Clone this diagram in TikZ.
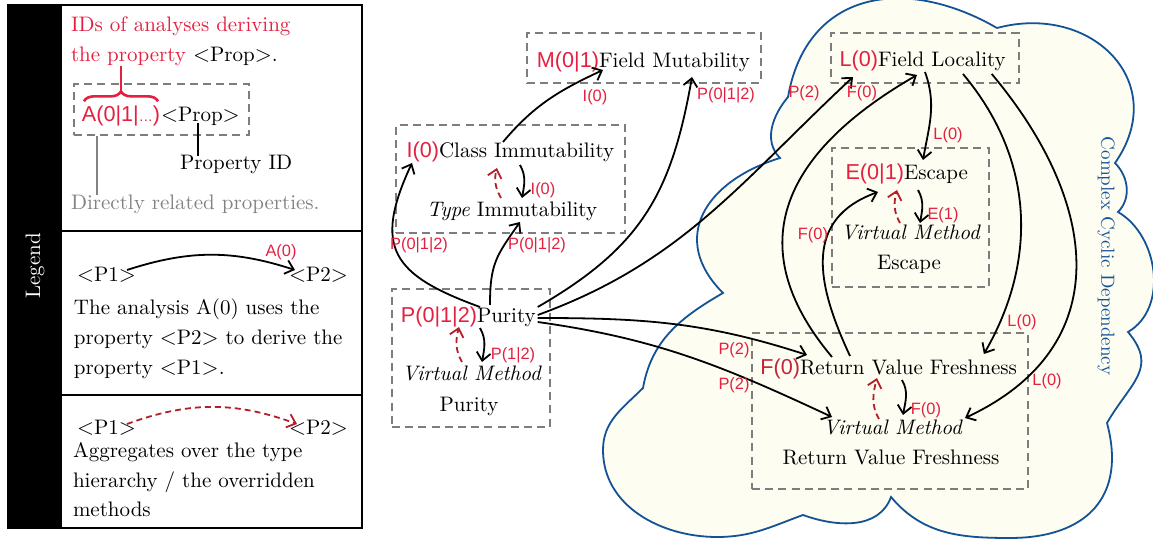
\documentclass[tikz,border=0pt]{standalone}
\usepackage{fontspec}
\newfontfamily\labfont{Liberation Sans}
\usetikzlibrary{arrows.meta,calc,decorations.pathreplacing}
\definecolor{labred}{RGB}{228,32,64}
\definecolor{aggred}{RGB}{180,30,40}
\definecolor{fred}{RGB}{195,35,60}
\definecolor{boxgray}{RGB}{125,125,125}
\definecolor{cloudblue}{RGB}{20,82,150}
\definecolor{cloudfill}{RGB}{253,253,242}
\definecolor{relgray}{RGB}{130,130,130}
\tikzset{
  txt/.style={inner sep=0pt, outer sep=0pt},
  plab/.style={inner sep=0pt, outer sep=0pt, text=labred, font=\labfont\fontsize{10.8}{13}\selectfont},
  elab/.style={inner sep=0pt, outer sep=0pt, text=labred, font=\labfont\fontsize{8.2}{10}\selectfont},
  dbox/.style={draw=boxgray, line width=1pt, dash pattern=on 4pt off 2.6pt, inner sep=0pt, outer sep=0pt, anchor=north west},
  boxsz/.style 2 args={minimum width=#1*0.5pt, minimum height=#2*0.5pt},
  dep/.style={draw=black, line width=0.9pt, -{Straight Barb[length=4pt,width=7pt]}},
  agg/.style={draw=aggred, line width=0.9pt, dash pattern=on 3pt off 2pt, -{Straight Barb[length=4pt,width=7pt]}},
  legbox/.style={draw=black, line width=1pt, inner sep=0pt, outer sep=0pt, anchor=north west},
}
\begin{document}
\begin{tikzpicture}[x=0.5pt, y=0.5pt, font=\fontsize{10.5}{12.6}\selectfont]
\useasboundingbox (0,0) rectangle (1153,-539);

% ---------- cloud ----------
\path[draw=cloudblue, fill=cloudfill, line width=0.9pt]
 (788,-97) to[out=80,in=150,looseness=1.25] (997,-28)
 to[out=15,in=55,looseness=1.4] (1115,-163)
 to[out=-45,in=45] (1118,-212)
 to[out=-30,in=30] (1128,-332)
 to[out=-50,in=60,looseness=1.3] (1107,-423)
 to[out=-75,in=0,looseness=1.3] (1010,-538)
 to[out=180,in=-50] (891,-497)
 to[out=-110,in=-20] (803,-515)
 to[out=-160,in=0] (717,-537)
 to[out=180,in=-90] (603,-450)
 to[out=90,in=-135] (643,-388)
 to[out=80,in=-150] (723,-293)
 to[out=135,in=197,looseness=1.35] (780,-158)
 to[out=135,in=-130] (788,-97) -- cycle;
\node[rotate=-90, text=cloudblue, font=\fontsize{9.5}{11}\selectfont] (ccd) at (1106,-256) {Complex Cyclic Dependency};

% ---------- legend ----------
\node[legbox, fill=black, boxsz={52}{523}] (legbar) at (8,-5) {};
\node[rotate=90, text=white] (legtitle) at (35,-266) {Legend};
\node[legbox, boxsz={301}{226}] (leg1) at (61,-5) {};
\node[legbox, boxsz={301}{164}] (leg2) at (61,-231) {};
\node[legbox, boxsz={301}{133}] (leg3) at (61,-395) {};

\node[txt, anchor=base west, text=labred] (LIDs1) at (71,-32) {IDs of analyses deriving};
\node[txt, anchor=base west] (LIDs2) at (71,-62) {\textcolor{labred}{the property} $<$Prop$>$.};
\node[dbox, boxsz={175}{51}] (LBox) at (74,-84) {};
\node[plab, anchor=base east] (LAlab) at (160,-122) {A(0|1|{\fontsize{7}{8}\selectfont …})};
\node[txt, anchor=base west] (LProp) at (161,-122) {$<$Prop$>$};
\draw[decorate, decoration={brace,amplitude=5pt}, draw=labred, line width=1.3pt]
  ($(LAlab.north west)+(2,5)$) -- ($(LAlab.north east)+(-2,5)$);
\coordinate (btip) at ($(LAlab.north west)!0.5!(LAlab.north east)+(0,15)$);
\draw[labred, line width=1.3pt] (btip) -- (btip |- LIDs2.south);
\node[txt, anchor=base west] (LPID) at (180,-170) {Property ID};
\coordinate (pidtop) at ($(LProp.base west)+(37,-1)$);
\draw[line width=1pt] (pidtop) -- (pidtop |- LPID.north);
\node[txt, anchor=base west, text=relgray] (LDR) at (71,-210) {Directly related properties.};
\coordinate (drtop) at ($(LBox.south west)+(23,-1)$);
\draw[relgray, line width=1pt] (drtop) -- (drtop |- LDR.north);

\node[txt, anchor=base west] (LP1a) at (77,-282) {$<$P1$>$};
\node[txt, anchor=base west] (LP2a) at (289,-282) {$<$P2$>$};
\draw[dep] ($(LP1a.base west)+(50,12)$) to[bend left=18] ($(LP2a.base west)+(6,12)$);
\node[elab] (LA0) at (281,-252) {A(0)};
\node[txt, anchor=base west] (Lt1) at (74,-315) {The analysis A(0) uses the};
\node[txt, anchor=base west] (Lt2) at (74,-345) {property $<$P2$>$ to derive the};
\node[txt, anchor=base west] (Lt3) at (74,-375) {property $<$P1$>$.};

\node[txt, anchor=base west] (LP1b) at (77,-435) {$<$P1$>$};
\node[txt, anchor=base west] (LP2b) at (289,-435) {$<$P2$>$};
\draw[agg] ($(LP1b.base west)+(50,11)$) to[bend left=20] ($(LP2b.base west)+(8,11)$);
\node[txt, anchor=base west] (Lt4) at (73,-458) {Aggregates over the type};
\node[txt, anchor=base west] (Lt5) at (73,-488) {hierarchy / the overridden};
\node[txt, anchor=base west] (Lt6) at (73,-517) {methods};

% ---------- boxes ----------
\node[dbox, boxsz={234}{50}] (Mbox) at (527,-33) {};
\node[dbox, boxsz={229}{108}] (Ibox) at (396,-125) {};
\node[dbox, boxsz={158}{138}] (Pbox) at (392,-289) {};
\node[dbox, boxsz={188}{50}] (Lbox) at (831,-33) {};
\node[dbox, boxsz={157}{139}] (Ebox) at (832,-148) {};
\node[dbox, boxsz={276}{156}] (Fbox) at (752,-333) {};

% ---------- texts ----------
\node[plab, anchor=base east] (Mlab) at (599,-68) {M(0|1)};
\node[txt, anchor=base west] (Mtxt) at (599,-68) {Field Mutability};
\node[plab, anchor=base east] (Ilab) at (439,-158) {I(0)};
\node[txt, anchor=base west] (Itxt) at (439,-158) {Class Immutability};
\node[txt, anchor=base] (Ttxt) at (512,-217) {\textit{Type} Immutability};
\node[plab, anchor=base east] (Plab) at (477,-323) {P(0|1|2)};
\node[txt, anchor=base west] (Ptxt) at (477,-323) {Purity};
\node[txt, anchor=base] (PVM) at (472,-381) {\textit{Virtual Method}};
\node[txt, anchor=base] (PVP) at (469,-412) {Purity};
\node[plab, anchor=base east] (Llab) at (878,-67) {L(0)};
\node[txt, anchor=base west] (Ltxt) at (878,-67) {Field Locality};
\node[plab, anchor=base east] (Elab) at (904,-180) {E(0|1)};
\node[txt, anchor=base west] (Etxt) at (904,-180) {Escape};
\node[txt, anchor=base] (EVM) at (911,-240) {\textit{Virtual Method}};
\node[txt, anchor=base] (EVE) at (909,-270) {Escape};
\node[plab, anchor=base east, text=fred] (Flab) at (800,-375) {F(0)};
\node[txt, anchor=base west] (Ftxt) at (800,-375) {Return Value Freshness};
\node[txt, anchor=base] (FVM) at (893,-435) {\textit{Virtual Method}};
\node[txt, anchor=base] (FVR) at (891,-465) {Return Value Freshness};

% ---------- edges ----------
\draw[dep] ($(Itxt.base west)+(64,16)$) to[out=50,in=-155] ($(Mtxt.base west)+(4,-2)$);
\node[elab] (eIM) at (595,-97) {I(0)};
\draw[dep] ($(Ptxt.base west)+(3,16)$) to[out=160,in=-115,looseness=1.5] ($(Ilab.base east)+(-27,-5)$);
\node[elab] (ePI) at (419,-245) {P(0|1|2)};
\draw[dep] ($(Ptxt.base west)+(13,18)$) to[out=90,in=-125,looseness=1.2] ($(Ttxt.base)+(8,-5)$);
\node[elab] (ePT) at (537,-245) {P(0|1|2)};
\draw[dep] ($(Ptxt.base east)+(2,16)$) to[out=30,in=-100,looseness=1.1] ($(Mtxt.base west)+(93,-9)$);
\node[elab] (ePM) at (726,-95) {P(0|1|2)};
\draw[dep] ($(Ptxt.base east)+(2,8)$) to[out=20,in=-137] ($(Llab.base east)+(-25,-10)$);
\node[elab] (ePL) at (804,-93) {P(2)};
\draw[dep] ($(Ptxt.base east)+(2,5)$) to[out=0,in=162] ($(Ftxt.base west)+(7,20)$);
\node[elab] (ePF) at (734,-350) {P(2)};
\draw[dep] ($(Ptxt.base east)+(2,1)$) to[out=-8,in=155] ($(FVM.base)+(-61,18)$);
\node[elab] (ePV) at (734,-385) {P(2)};

\draw[dep] ($(Ftxt.base west)+(32,18)$) to[out=130,in=-150,looseness=1.3] ($(Ltxt.base west)+(39,-8)$);
\node[elab] (eFL) at (862,-93) {F(0)};
\draw[dep] ($(Ftxt.base west)+(50,19)$) to[out=115,in=-160,looseness=1.23] ($(Elab.base east)+(-26,-12)$);
\node[elab] (eFE) at (813,-235) {F(0)};
\draw[dep] ($(Ltxt.base west)+(47,-5)$) to[out=-70,in=80] ($(Etxt.base west)+(19,20)$);
\node[elab] (eLE) at (948,-135) {L(0)};
\draw[dep] ($(Ltxt.base west)+(85,-7)$) to[out=-50,in=60] ($(Ftxt.base east)+(-33,21)$);
\node[elab] (eLF) at (1022,-322) {L(0)};
\draw[dep] ($(Ltxt.base east)+(-14,-7)$) to[out=-50,in=25,looseness=1.25] ($(FVM.base)+(72,17)$);
\node[elab] (eLV) at (1047,-381) {L(0)};

% ---------- self loops ----------
\draw[dep] ($(Itxt.base west)+(81,-7)$) to[out=-60,in=80] ($(Ttxt.base)+(10,19)$);
\node[elab] (eII) at (543,-190) {I(0)};
\draw[agg] ($(Ttxt.base)+(-11,19)$) to[out=120,in=-105] ($(Itxt.base west)+(58,-10)$);

\draw[dep] ($(Ptxt.base west)+(3,-5)$) to[out=-60,in=80] ($(PVM.base)+(10,19)$);
\node[elab] (ePP) at (513,-355) {P(1|2)};
\draw[agg] ($(PVM.base)+(-10,19)$) to[out=120,in=-105] ($(Plab.base east)+(-18,-4)$);

\draw[dep] ($(Etxt.base west)+(14,-10)$) to[out=-60,in=80] ($(EVM.base)+(9,17)$);
\node[elab] (eEE) at (943,-215) {E(1)};
\draw[agg] ($(EVM.base)+(-11,17)$) to[out=120,in=-105] ($(Elab.base east)+(-7,-10)$);

\draw[dep] ($(Ftxt.base west)+(102,-5)$) to[out=-60,in=80] ($(FVM.base)+(10,20)$);
\node[elab] (eFF) at (926,-410) {F(0)};
\draw[agg] ($(FVM.base)+(-14,16)$) to[out=120,in=-105] ($(Ftxt.base west)+(77,-3)$);
\end{tikzpicture}
\end{document}
